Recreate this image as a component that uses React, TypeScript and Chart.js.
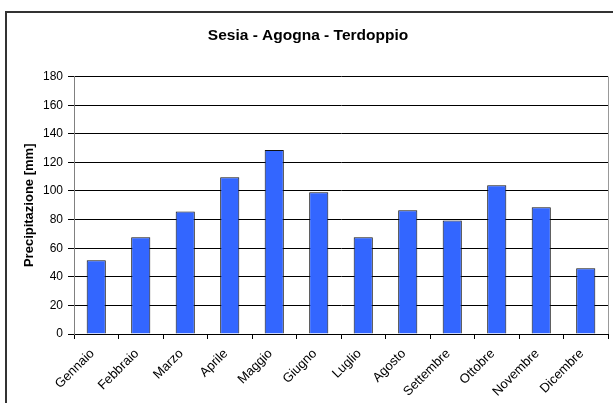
import React, { useEffect, useRef } from "react";
import { Chart, registerables } from "chart.js";

Chart.register(...registerables);

const categories = ["Gennaio", "Febbraio", "Marzo", "Aprile", "Maggio", "Giugno", "Luglio", "Agosto", "Settembre", "Ottobre", "Novembre", "Dicembre"];
const precipitation = [51.5, 67.7, 85.6, 109.7, 128.6, 99.2, 67.7, 86.6, 79.4, 104.1, 88.7, 46];
const chartTitle = "Sesia - Agogna - Terdoppio";
const yAxisTitle = "Precipitazione [mm]";

const FONT = "Arial, 'Liberation Sans', sans-serif";

const framePlugin = {
  id: "frame",
  beforeDraw(chart: any) {
    const { ctx, width, height } = chart;
    ctx.save();
    ctx.fillStyle = "#ffffff";
    ctx.fillRect(0, 0, width, height);
    ctx.strokeStyle = "#333333";
    ctx.lineWidth = 2;
    ctx.beginPath();
    ctx.moveTo(6, height + 2);
    ctx.lineTo(6, 12);
    ctx.lineTo(width + 2, 12);
    ctx.stroke();
    ctx.restore();
  },
  afterDatasetsDraw(chart: any) {
    const { ctx, chartArea } = chart;
    ctx.save();
    ctx.strokeStyle = "#999999";
    ctx.lineWidth = 1;
    ctx.beginPath();
    ctx.moveTo(Math.round(chartArea.right) + 0.5, chartArea.top);
    ctx.lineTo(Math.round(chartArea.right) + 0.5, chartArea.bottom);
    ctx.stroke();
    ctx.restore();
  },
};

export default function App() {
  const ref = useRef<HTMLCanvasElement>(null);
  useEffect(() => {
    if (!ref.current) return;
    const chart = new Chart(ref.current, {
      type: "bar",
      data: {
        labels: categories,
        datasets: [
          {
            data: precipitation,
            backgroundColor: "#3366FF",
            borderColor: "#111111",
            borderWidth: 1,
            categoryPercentage: 1,
            barPercentage: 0.43,
          },
        ],
      },
      options: {
        responsive: false,
        animation: false,
        layout: { padding: { left: 8, right: 5, top: 0, bottom: 0 } },
        plugins: {
          legend: { display: false },
          tooltip: { enabled: false },
          title: {
            display: true,
            text: chartTitle,
            color: "#000",
            font: { family: FONT, size: 15.5, weight: "bold", lineHeight: 1.2 },
            padding: { top: 26, bottom: 32 },
          },
        },
        scales: {
          x: {
            afterFit(scale: any) {
              scale.height = 69;
            },
            grid: {
              display: true,
              drawOnChartArea: false,
              drawTicks: true,
              tickLength: 5,
              color: "#000",
              offset: true,
            },
            border: { display: true, color: "#000", width: 1 },
            ticks: {
              color: "#000",
              font: { family: FONT, size: 13 },
              maxRotation: 45,
              minRotation: 45,
              autoSkip: false,
              padding: 7,
              labelOffset: -4,
            },
          },
          y: {
            min: 0,
            max: 180,
            afterFit(scale: any) {
              scale.width = 66;
            },
            grid: {
              color: "#000",
              lineWidth: 1,
              tickLength: 6,
            },
            border: { display: true, color: "#808080", width: 1 },
            ticks: {
              stepSize: 20,
              color: "#000",
              font: { family: FONT, size: 12 },
              padding: 5,
            },
            title: {
              display: true,
              text: yAxisTitle,
              color: "#000",
              font: { family: FONT, size: 13, weight: "bold", lineHeight: 1.2 },
              padding: { top: 14, bottom: 0 },
            },
          },
        },
      },
      plugins: [framePlugin],
    });
    return () => chart.destroy();
  }, []);
  return (
    <div style={{ position: "absolute", left: 0, top: 0, width: 613, height: 403 }}>
      <canvas ref={ref} width={613} height={403} style={{ display: "block" }} />
    </div>
  );
}
